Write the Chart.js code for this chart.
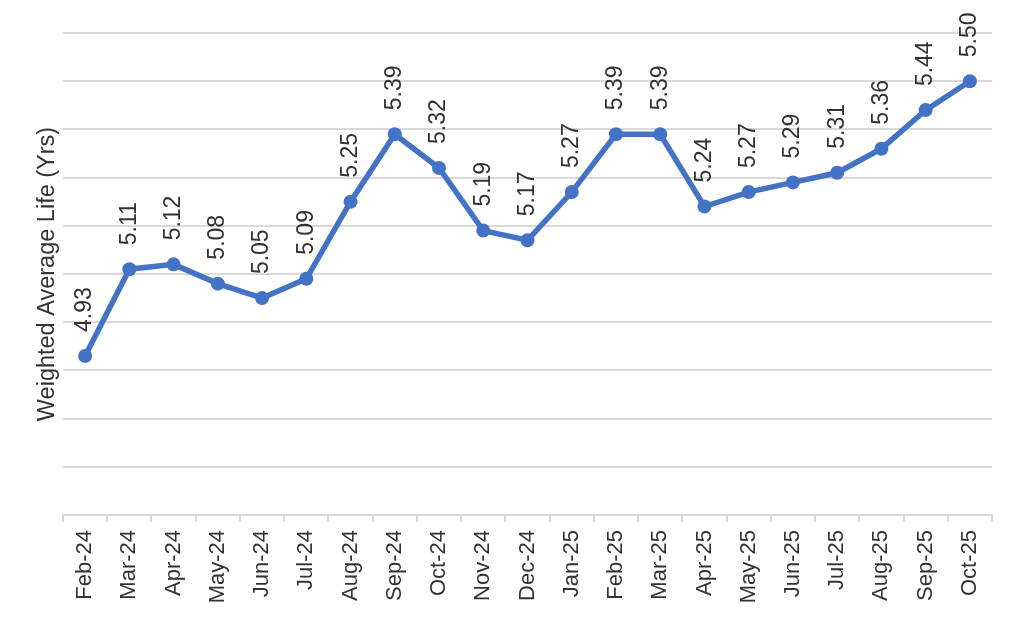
<!DOCTYPE html>
<html lang="en">
<head>
    <meta charset="UTF-8">
    <title>Weighted Average Life</title>
    <style>
        html, body {
            margin: 0;
            padding: 0;
            background-color: #fff;
        }
    </style>
    <script src="https://cdn.jsdelivr.net/npm/chart.js"></script>
</head>
<body>
<canvas id="walChart" width="1024" height="633"></canvas>

<script>
    const months = [
        'Feb-24', 'Mar-24', 'Apr-24', 'May-24', 'Jun-24', 'Jul-24', 'Aug-24',
        'Sep-24', 'Oct-24', 'Nov-24', 'Dec-24', 'Jan-25', 'Feb-25', 'Mar-25',
        'Apr-25', 'May-25', 'Jun-25', 'Jul-25', 'Aug-25', 'Sep-25', 'Oct-25'
    ];
    const walYears = [
        4.93, 5.11, 5.12, 5.08, 5.05, 5.09, 5.25, 5.39, 5.32, 5.19, 5.17,
        5.27, 5.39, 5.39, 5.24, 5.27, 5.29, 5.31, 5.36, 5.44, 5.50
    ];
    const yMin = 4.6;
    const yMax = 5.6;
    const yStep = 0.1;

    const fontFamily = "'Liberation Sans', Arial, sans-serif";
    const textColor = '#333333';
    const gridColor = '#d9d9d9';

    // 数值标签：竖排，画在每个点的上方
    const pointLabels = {
        id: 'pointLabels',
        afterDatasetsDraw(chart) {
            const ctx = chart.ctx;
            const meta = chart.getDatasetMeta(0);
            ctx.save();
            ctx.font = `23px ${fontFamily}`;
            ctx.fillStyle = textColor;
            ctx.textAlign = 'left';
            ctx.textBaseline = 'middle';
            meta.data.forEach((pt, i) => {
                ctx.save();
                ctx.translate(pt.x, pt.y - 24);
                ctx.rotate(-Math.PI / 2);
                ctx.fillText(walYears[i].toFixed(2), 0, 0);
                ctx.restore();
            });
            ctx.restore();
        }
    };

    new Chart(document.getElementById('walChart'), {
        type: 'line',
        data: {
            labels: months,
            datasets: [{
                data: walYears,
                borderColor: '#4472C4',
                backgroundColor: '#4472C4',
                borderWidth: 5.5,
                pointRadius: 7,
                pointBorderWidth: 0,
                pointBackgroundColor: '#4472C4',
                tension: 0,
                clip: false
            }]
        },
        options: {
            responsive: false,
            animation: false,
            devicePixelRatio: 1,
            layout: {
                padding: { top: 33, right: 32, bottom: 0, left: 0 }
            },
            plugins: {
                legend: { display: false },
                tooltip: { enabled: false }
            },
            scales: {
                x: {
                    offset: true,
                    grid: {
                        offset: true,
                        drawOnChartArea: false,
                        drawTicks: true,
                        tickLength: 7,
                        color: gridColor,
                        lineWidth: 2
                    },
                    border: { color: gridColor, width: 2 },
                    ticks: {
                        autoSkip: false,
                        minRotation: 90,
                        maxRotation: 90,
                        padding: 8,
                        color: textColor,
                        font: { family: fontFamily, size: 22 }
                    },
                    afterFit: scale => { scale.height = 118; }
                },
                y: {
                    min: yMin,
                    max: yMax,
                    ticks: { display: false, stepSize: yStep },
                    grid: {
                        color: gridColor,
                        lineWidth: 2,
                        drawTicks: false
                    },
                    border: { display: false },
                    title: {
                        display: true,
                        text: 'Weighted Average Life (Yrs)',
                        color: textColor,
                        font: { family: fontFamily, size: 23.5 },
                        padding: { top: 33, bottom: 0 }
                    },
                    afterFit: scale => { scale.width = 63; }
                }
            }
        },
        plugins: [pointLabels]
    });
</script>
</body>
</html>
